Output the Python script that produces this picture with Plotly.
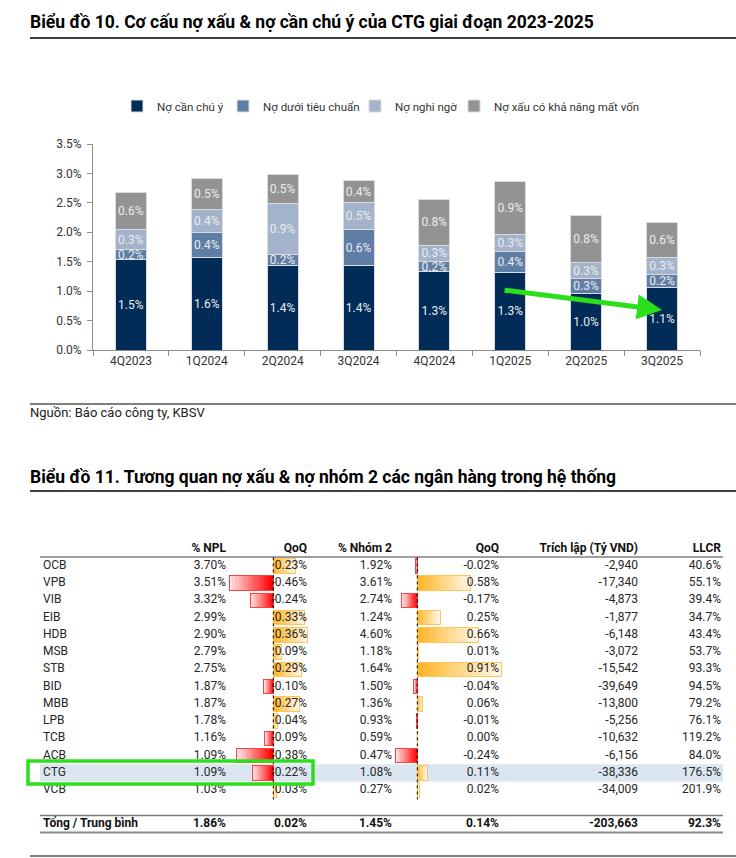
import plotly.graph_objects as go

W, H = 736, 858
def PX(x): return x / W
def PY(y): return 1 - y / H

FONT = "Roboto"

# ---------------- Chart 10 data ----------------
quarters = ["4Q2023", "1Q2024", "2Q2024", "3Q2024", "4Q2024", "1Q2025", "2Q2025", "3Q2025"]
no_can_chu_y = [1.53, 1.58, 1.43, 1.43, 1.33, 1.31, 0.96, 1.06]
no_duoi_tieu_chuan = [0.18, 0.42, 0.20, 0.61, 0.17, 0.36, 0.26, 0.22]
no_nghi_ngo = [0.33, 0.39, 0.86, 0.46, 0.28, 0.30, 0.26, 0.29]
no_mat_von = [0.64, 0.53, 0.50, 0.38, 0.78, 0.90, 0.80, 0.59]
y_ticks = [0, 0.5, 1.0, 1.5, 2.0, 2.5, 3.0, 3.5]

# ---------------- Chart 11 data ----------------
banks = ["OCB", "VPB", "VIB", "EIB", "HDB", "MSB", "STB", "BID", "MBB", "LPB", "TCB", "ACB", "CTG", "VCB"]
npl = [3.70, 3.51, 3.32, 2.99, 2.90, 2.79, 2.75, 1.87, 1.87, 1.78, 1.16, 1.09, 1.09, 1.03]
npl_qoq = [0.23, -0.46, -0.24, 0.33, 0.36, 0.09, 0.29, -0.10, 0.27, 0.04, -0.09, -0.38, -0.22, 0.03]
nhom2 = [1.92, 3.61, 2.74, 1.24, 4.60, 1.18, 1.64, 1.50, 1.36, 0.93, 0.59, 0.47, 1.08, 0.27]
nhom2_qoq = [-0.02, 0.58, -0.17, 0.25, 0.66, 0.01, 0.91, -0.04, 0.06, -0.01, 0.00, -0.24, 0.11, 0.02]
trich_lap = [-2940, -17340, -4873, -1877, -6148, -3072, -15542, -39649, -13800, -5256, -10632, -6156, -38336, -34009]
llcr = [40.6, 55.1, 39.4, 34.7, 43.4, 53.7, 93.3, 94.5, 79.2, 76.1, 119.2, 84.0, 176.5, 201.9]
headers = ["% NPL", "QoQ", "% Nhóm 2", "QoQ", "Trích lập (Tỷ VND)", "LLCR"]
total_label = "Tổng / Trung bình"
totals = ["1.86%", "0.02%", "1.45%", "0.14%", "-203,663", "92.3%"]
highlight_bank = "CTG"

fig = go.Figure()

# ---------------- Chart 10 ----------------
series = [
    ("Nợ cần chú ý", no_can_chu_y, "#002c57"),
    ("Nợ dưới tiêu chuẩn", no_duoi_tieu_chuan, "#5f7ea6"),
    ("Nợ nghi ngờ", no_nghi_ngo, "#a3b3cb"),
    ("Nợ xấu có khả năng mất vốn", no_mat_von, "#939393"),
]
legend_keys = ["legend", "legend2", "legend3", "legend4"]
for (name, vals, color), lg in zip(series, legend_keys):
    fig.add_trace(go.Bar(
        x=quarters, y=vals, name=name, xaxis="x", yaxis="y", legend=lg,
        marker=dict(color=color, line=dict(color="#dcdcdc", width=1)),
        text=[f"{v:.1f}%" for v in vals], textposition="inside",
        insidetextanchor="middle", textangle=0, constraintext="none",
        textfont=dict(color="#ececec", size=12, family=FONT),
        hoverinfo="skip",
    ))

# ---------------- Chart 11: data bars ----------------
N = 14
def mix(c, t):
    r, g, b = c
    return f"rgb({round(r + (255 - r) * t)},{round(g + (255 - g) * t)},{round(b + (255 - b) * t)})"

rows = list(range(len(banks)))
BW = 0.84
for col_vals, xa in [(npl_qoq, "x2"), (nhom2_qoq, "x3")]:
    for k in range(N):
        t = 0.88 * k / (N - 1)
        cols = [mix((255, 182, 40), t) if v >= 0 else mix((255, 0, 0), t) for v in col_vals]
        fig.add_trace(go.Bar(
            x=[v / N for v in col_vals], y=rows, orientation="h", width=BW,
            marker=dict(color=cols, line=dict(width=0)),
            xaxis=xa, yaxis="y2", showlegend=False, hoverinfo="skip",
        ))
for col_vals, xa in [(npl_qoq, "x4"), (nhom2_qoq, "x5")]:
    fig.add_trace(go.Bar(
        x=col_vals, y=rows, orientation="h", width=BW,
        marker=dict(color="rgba(0,0,0,0)",
                    line=dict(width=1, color=["#ffc35a" if v >= 0 else "#ff4040" for v in col_vals])),
        xaxis=xa, yaxis="y2", showlegend=False, hoverinfo="skip",
    ))

# ---------------- Chart 11: text ----------------
TXT = dict(size=12, family=FONT, color="#262626")
BOLD = dict(size=12, family=FONT, color="#111111", weight="bold")
col_right = [226, 307, 392, 499, 638, 721]
col_text = [
    [f"{v:.2f}%" for v in npl],
    [f"{v:.2f}%" for v in npl_qoq],
    [f"{v:.2f}%" for v in nhom2],
    [f"{v:.2f}%" for v in nhom2_qoq],
    [f"{v:,}" for v in trich_lap],
    [f"{v:.1f}%" for v in llcr],
]
fig.add_trace(go.Scatter(
    x=[43] * len(banks), y=rows, text=banks, mode="text", textposition="middle right",
    textfont=TXT, xaxis="x6", yaxis="y2", showlegend=False, hoverinfo="skip", cliponaxis=False))
for xr, txt in zip(col_right, col_text):
    fig.add_trace(go.Scatter(
        x=[xr] * len(txt), y=rows, text=txt, mode="text", textposition="middle left",
        textfont=TXT, xaxis="x6", yaxis="y2", showlegend=False, hoverinfo="skip", cliponaxis=False))
# header + total
fig.add_trace(go.Scatter(
    x=col_right, y=[-1] * len(headers), text=headers, mode="text", textposition="middle left",
    textfont=BOLD, xaxis="x6", yaxis="y2", showlegend=False, hoverinfo="skip", cliponaxis=False))
fig.add_trace(go.Scatter(
    x=[43], y=[15], text=[total_label], mode="text", textposition="middle right",
    textfont=BOLD, xaxis="x6", yaxis="y2", showlegend=False, hoverinfo="skip", cliponaxis=False))
fig.add_trace(go.Scatter(
    x=col_right, y=[15] * len(totals), text=totals, mode="text", textposition="middle left",
    textfont=BOLD, xaxis="x6", yaxis="y2", showlegend=False, hoverinfo="skip", cliponaxis=False))

# ---------------- Layout ----------------
r_top = -(566 - 530) / 17.23
r_bot = (858 - 566) / 17.23
npl_rng = [-273.3 / 96, (736 - 273.3) / 96]
n2_rng = [-417.3 / 92, (736 - 417.3) / 92]
hid = dict(visible=False, showgrid=False, zeroline=False, fixedrange=True, automargin=False)

leg_symbol_centers = [137, 243, 375, 474]
legends = {}
for lg, cx in zip(legend_keys, leg_symbol_centers):
    legends[lg] = dict(orientation="h", x=PX(cx - 20), xanchor="left", y=PY(106), yanchor="middle",
                       font=dict(size=11.5, family=FONT, color="#333333"),
                       itemwidth=30, bgcolor="rgba(0,0,0,0)", borderwidth=0)

fig.update_layout(
    width=W, height=H, margin=dict(l=0, r=0, t=0, b=0, pad=0, autoexpand=False),
    paper_bgcolor="white", plot_bgcolor="rgba(0,0,0,0)",
    font=dict(family=FONT, size=12, color="#333333"),
    barmode="stack", bargap=0.59,
    showlegend=True,
    xaxis=dict(domain=[PX(93), PX(700)], anchor="y", type="category", automargin=False,
               showline=True, linecolor="#8c8c8c", linewidth=1,
               ticks="outside", tickson="boundaries", ticklen=5, tickcolor="#8c8c8c",
               tickfont=dict(size=12, color="#333333"), showgrid=False),
    yaxis=dict(domain=[PY(350), PY(144)], anchor="x", range=[0, 3.5], automargin=False,
               tickvals=y_ticks, ticktext=[f"{v:.1f}%" for v in y_ticks],
               showline=True, linecolor="#8c8c8c", linewidth=1, ticklabelstandoff=3,
               ticks="outside", ticklen=5, tickcolor="#8c8c8c",
               tickfont=dict(size=12, color="#333333"), showgrid=False, zeroline=False),
    xaxis2=dict(domain=[0, 1], anchor="y2", range=npl_rng, **hid),
    xaxis3=dict(overlaying="x2", anchor="y2", range=n2_rng, **hid),
    xaxis4=dict(overlaying="x2", anchor="y2", range=npl_rng, **hid),
    xaxis5=dict(overlaying="x2", anchor="y2", range=n2_rng, **hid),
    xaxis6=dict(overlaying="x2", anchor="y2", range=[0, W], **hid),
    yaxis2=dict(domain=[0, PY(530)], anchor="x2", range=[r_bot, r_top], **hid),
    **legends,
)

# arrow
fig.add_annotation(x="3Q2025", y=0.68, xref="x", yref="y", ax=-159, ay=-20,
                   showarrow=True, arrowhead=2, arrowsize=1.0, arrowwidth=5,
                   arrowcolor="#2be01b", text="", standoff=0)

# titles & source
def txt(x, y, s, size, bold=False, color="#000000"):
    fig.add_annotation(x=PX(x), y=PY(y), xref="paper", yref="paper", text=s, showarrow=False,
                       xanchor="left", yanchor="middle",
                       font=dict(size=size, family=FONT, color=color, weight="bold" if bold else "normal"))
txt(28, 22, "Biểu đồ 10. Cơ cấu nợ xấu & nợ cần chú ý của CTG giai đoạn 2023-2025", 17.5, True)
txt(28, 413, "Nguồn: Báo cáo công ty, KBSV", 13, False, "#222222")
txt(28, 477, "Biểu đồ 11. Tương quan nợ xấu & nợ nhóm 2 các ngân hàng trong hệ thống", 17.5, True)

def hline(y, x0, x1, color, w):
    fig.add_shape(type="line", xref="paper", yref="paper", x0=PX(x0), x1=PX(x1), y0=PY(y), y1=PY(y),
                  line=dict(color=color, width=w))
hline(38, 30, 736, "#000000", 1.5)
hline(404, 30, 736, "#000000", 1.2)
hline(491, 30, 736, "#000000", 1.5)
hline(557, 40, 723, "#808080", 1.5)
hline(815.5, 40, 723, "#7a7a7a", 1.5)
hline(832.5, 40, 723, "#8c8c8c", 2)
hline(856, 30, 736, "#000000", 1.2)

# highlight row
hi = banks.index(highlight_bank)
fig.add_shape(type="rect", xref="paper", yref="y2", x0=PX(40), x1=PX(723), y0=hi - 0.5, y1=hi + 0.5,
              fillcolor="#dce6f1", line=dict(width=0), layer="below")
# dotted axes of data bars
fig.add_shape(type="line", xref="x2", yref="y2", x0=0, x1=0, y0=-0.5, y1=len(banks) - 0.45,
              line=dict(color="#000000", width=1, dash="dot"))
fig.add_shape(type="line", xref="x3", yref="y2", x0=0, x1=0, y0=-0.5, y1=len(banks) - 0.45,
              line=dict(color="#000000", width=1, dash="dot"))
# green box
fig.add_shape(type="rect", xref="paper", yref="paper", x0=PX(28), x1=PX(313), y0=PY(784), y1=PY(761),
              line=dict(color="#2be01b", width=3.5), fillcolor="rgba(0,0,0,0)")

fig.write_html("out.html", config={"displayModeBar": False},
               post_script="document.body.style.margin='0';document.body.style.overflow='hidden';")
